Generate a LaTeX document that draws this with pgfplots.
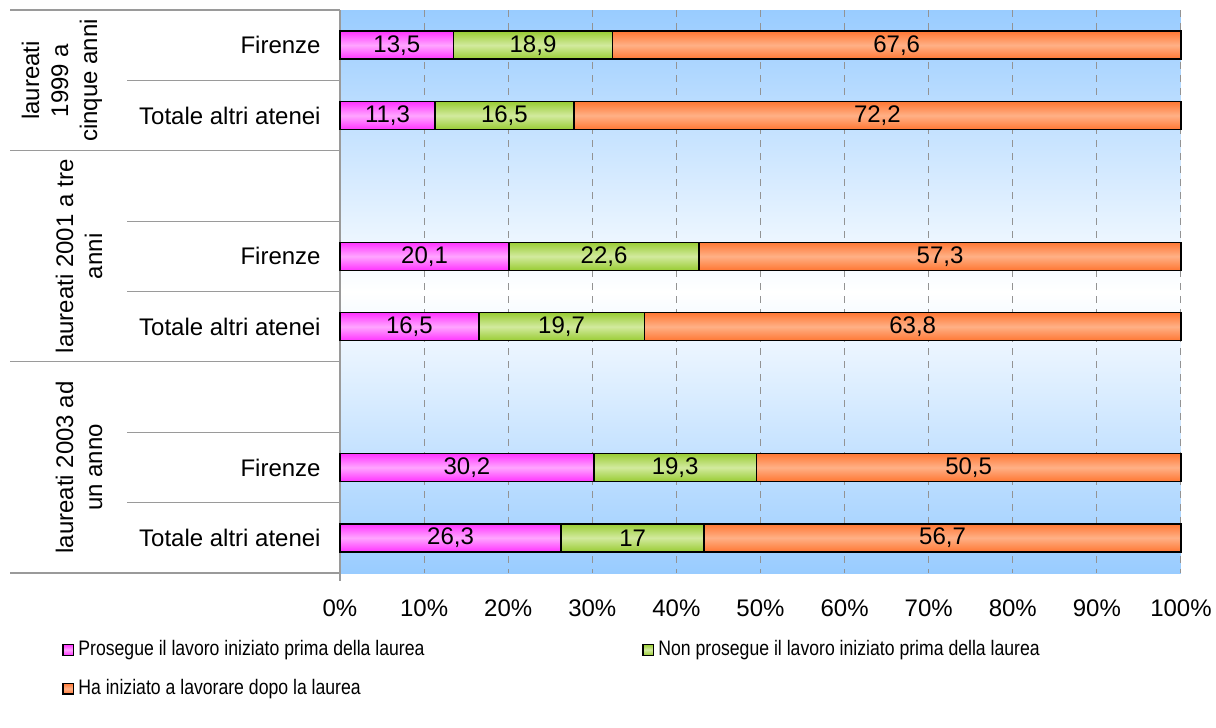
\documentclass[border=0pt]{standalone}
\usepackage{fontspec}
\setmainfont{Liberation Sans}
\usepackage{graphicx}
\usepackage{pgfplots}
\usepackage{pgfplotstable}
\pgfplotsset{compat=1.18}
\definecolor{bgblue}{HTML}{99CCFF}
\definecolor{magE}{HTML}{FF33FF}
\definecolor{magM}{HTML}{FFA6FF}
\definecolor{grnE}{HTML}{99CC33}
\definecolor{grnM}{HTML}{D2EA9E}
\definecolor{orgE}{HTML}{FF7733}
\definecolor{orgM}{HTML}{FFB086}
\definecolor{sepgray}{HTML}{9A9A9A}
\pgfplotstableread{
row pro non ha
0 13.5 18.9 67.6
1 11.3 16.5 72.2
3 20.1 22.6 57.3
4 16.5 19.7 63.8
6 30.2 19.3 50.5
7 26.3 17 56.7
}\data
\pgfplotsset{
  magbar/.style={draw=black, line width=0.75pt, top color=magE, bottom color=magE, middle color=magM},
  grnbar/.style={draw=black, line width=0.75pt, top color=grnE, bottom color=grnE, middle color=grnM},
  orgbar/.style={draw=black, line width=0.75pt, top color=orgE, bottom color=orgE, middle color=orgM},
  rowaxis/.style={
    scale only axis, width=420.5pt, height=35.1875pt,
    anchor=south west, clip=false, hide axis,
    xmin=0, xmax=100, y dir=reverse,
    xbar stacked, bar width=14pt,
  },
}
\newcommand{\barrow}[3]{%
\begin{axis}[rowaxis, at={(0pt,#3)}, ymin=#1, ymax=#2]
\addplot[magbar, restrict y to domain=#1:#2] table[x=pro, y=row] {\data};
\addplot[grnbar, restrict y to domain=#1:#2] table[x=non, y=row] {\data};
\addplot[orgbar, restrict y to domain=#1:#2] table[x=ha, y=row] {\data};
\end{axis}}
\begin{document}
\begin{tikzpicture}
\fontsize{12}{14.5}\selectfont
\path[use as bounding box] (-170pt,-77.5pt) rectangle (438pt,286.5pt);
\begin{axis}[
  scale only axis,
  width=420.5pt, height=281.5pt,
  at={(0,0)}, anchor=south west,
  clip=false,
  xmin=0, xmax=100,
  ymin=-0.5, ymax=7.5,
  y dir=reverse,
  axis lines=left,
  x axis line style={draw=none},
  y axis line style={draw=sepgray, -, line width=0.6pt},
  major tick length=0pt,
  xtick={0,10,...,100},
  xticklabel={\pgfmathprintnumber{\tick}\%},
  xticklabel style={yshift=-9pt},
  ytick={0,1,3,4,6,7},
  yticklabels={Firenze,Totale altri atenei,Firenze,Totale altri atenei,Firenze,Totale altri atenei},
  yticklabel style={xshift=-5.5pt},
  xmajorgrids,
  major grid style={draw=gray!85, dash pattern=on 3.5pt off 3pt, line width=0.5pt},
  axis background/.style={top color=bgblue, bottom color=bgblue, middle color=white},
  /pgf/number format/assume math mode=true,
  legend columns=2,
  legend cell align=left,
  legend style={draw=none, fill=none, inner sep=0pt, at={(axis description cs:0,0)}, anchor=north west, xshift=-139pt, yshift=-31.5pt, font=\fontsize{10.5}{12}\selectfont, row sep=6pt, nodes={inner sep=2pt}},
  legend image code/.code={\draw[#1, line width=0.6pt] (0pt,-2.7pt) rectangle (5.4pt,2.7pt);},
]
\addlegendimage{magbar}
\addlegendentry{\makebox[280pt][l]{\scalebox{0.84}[1]{Prosegue il lavoro iniziato prima della laurea}}}
\addlegendimage{grnbar}
\addlegendentry{\scalebox{0.84}[1]{Non prosegue il lavoro iniziato prima della laurea}}
\addlegendimage{orgbar}
\addlegendentry{\makebox[280pt][l]{\scalebox{0.84}[1]{Ha iniziato a lavorare dopo la laurea}}}
% separators
\draw[sepgray, line width=0.6pt] (axis cs:0,-0.5) -- ([xshift=-165pt]axis cs:0,-0.5);
\draw[sepgray, line width=0.6pt] (axis cs:0,1.5) -- ([xshift=-165pt]axis cs:0,1.5);
\draw[sepgray, line width=0.6pt] (axis cs:0,4.5) -- ([xshift=-165pt]axis cs:0,4.5);
\draw[sepgray, line width=0.6pt] (axis cs:0,7.5) -- ([xshift=-165pt]axis cs:0,7.5);
\draw[sepgray, line width=0.6pt] (axis cs:0,0.5) -- ([xshift=-106.5pt]axis cs:0,0.5);
\draw[sepgray, line width=0.6pt] (axis cs:0,2.5) -- ([xshift=-106.5pt]axis cs:0,2.5);
\draw[sepgray, line width=0.6pt] (axis cs:0,3.5) -- ([xshift=-106.5pt]axis cs:0,3.5);
\draw[sepgray, line width=0.6pt] (axis cs:0,5.5) -- ([xshift=-106.5pt]axis cs:0,5.5);
\draw[sepgray, line width=0.6pt] (axis cs:0,6.5) -- ([xshift=-106.5pt]axis cs:0,6.5);
\draw[sepgray, line width=0.6pt] (axis cs:0,7.5) -- ([yshift=-4pt]axis cs:0,7.5);
\node[rotate=90, align=center] at ([xshift=-139pt]axis cs:0,0.5) {laureati\\1999 a\\cinque anni};
\node[rotate=90, align=center] at ([xshift=-130.5pt]axis cs:0,3) {laureati 2001 a tre\\anni};
\node[rotate=90, align=center] at ([xshift=-130.5pt]axis cs:0,6) {laureati 2003 ad\\un anno};
\end{axis}
\barrow{-0.5}{0.5}{246.3125pt}
\barrow{0.5}{1.5}{211.125pt}
\barrow{2.5}{3.5}{140.75pt}
\barrow{3.5}{4.5}{105.5625pt}
\barrow{5.5}{6.5}{35.1875pt}
\barrow{6.5}{7.5}{0pt}
% value labels, centred in each segment
\begin{axis}[
  scale only axis, width=420.5pt, height=281.5pt,
  at={(0,0)}, anchor=south west, clip=false, hide axis,
  xmin=0, xmax=100, ymin=-0.5, ymax=7.5, y dir=reverse,
  /pgf/number format/use comma,
  /pgf/number format/fixed,
  /pgf/number format/precision=1,
  /pgf/number format/assume math mode=true,
  nodes near coords,
  nodes near coords align={center},
  every node near coord/.append style={black, anchor=center},
]
\addplot[draw=none, mark=none, point meta=\thisrow{pro}] table[x expr=\thisrow{pro}/2, y=row] {\data};
\addplot[draw=none, mark=none, point meta=\thisrow{non}] table[x expr=\thisrow{pro}+\thisrow{non}/2, y=row] {\data};
\addplot[draw=none, mark=none, point meta=\thisrow{ha}] table[x expr=\thisrow{pro}+\thisrow{non}+\thisrow{ha}/2, y=row] {\data};
\end{axis}
\end{tikzpicture}
\end{document}
